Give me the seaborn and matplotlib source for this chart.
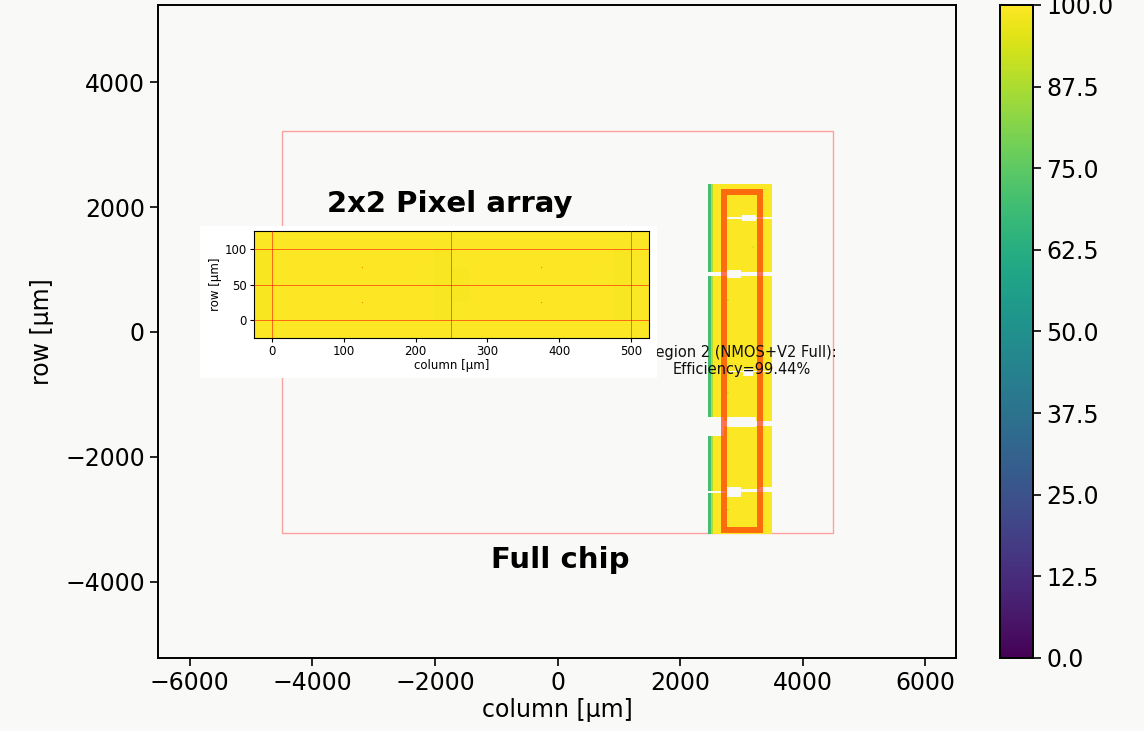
import numpy as np
import matplotlib
matplotlib.use("Agg")
import matplotlib.pyplot as plt
from matplotlib.patches import Rectangle
import seaborn as sns

# ---------------- data ----------------
# full chip outline (µm)
chip_x = [-4500, 4500]
chip_y = [-3225, 3225]

# measured strip (region 2) extent (µm)
strip_x = [2460, 3490]
strip_y = [-3240, 2370]
strip_step = 10  # µm bin

# efficiency profile across the strip columns (segment edges, values in %)
strip_col_edges = [2460, 2500, 2530, 3490]
strip_col_eff = [70.0, 88.0, 99.6]

# slightly lower-efficiency specks inside the strip: (x0, x1, y0, y1, eff)
strip_specks = [
    (2760, 2800, 490, 520, 93.0),
    (2740, 2790, -1000, -970, 94.0),
    (2740, 2790, -2870, -2840, 94.0),
    (3170, 3200, 1350, 1380, 95.0),
    (3060, 3100, -250, -220, 95.0),
]

# regions without data (white gaps): (x0, x1, y0, y1)
strip_gaps = [
    (2757, 3500, 1815, 1840),
    (3002, 3230, 1775, 1880),
    (2450, 3500, 905, 955),
    (2757, 2985, 860, 1000),
    (2757, 3500, -650, -630),
    (3018, 3181, -710, -590),
    (2450, 3500, -1495, -1420),
    (2450, 2720, -1670, -1375),
    (2757, 3230, -1530, -1375),
    (2757, 3500, -2555, -2525),
    (3295, 3500, -2525, -2480),
    (2757, 2985, -2650, -2480),
    (2450, 2740, -2575, -2550),
]

# region of interest (µm)
roi_x = [2708, 3295]
roi_y = [-3173, 2244]
roi_label = "Region 2 (NMOS+V2 Full):\nEfficiency=99.44%"
roi_text_pos = (3000, -465)

# 2x2 pixel array inset (25 µm bins, x from -25 to 525, y from -25 to 125)
inset_x_edges = [-25 + 25 * i for i in range(23)]
inset_y_edges = [-25, 0, 25, 50, 75, 100, 125]
inset_eff = [
    [99.3, 99.5, 99.9, 99.9, 99.9, 100.0, 99.9, 99.9, 99.9, 99.8, 99.3, 99.5, 99.9, 99.9, 99.9, 100.0, 99.9, 99.9, 99.9, 99.8, 99.3, 99.4],
    [99.2, 99.4, 99.9, 99.9, 99.8, 99.9, 99.9, 99.9, 99.8, 99.7, 99.2, 99.4, 99.8, 99.9, 99.9, 99.9, 99.9, 99.9, 99.8, 99.7, 99.2, 99.4],
    [99.1, 99.3, 99.9, 99.9, 99.9, 100.0, 99.9, 99.9, 99.9, 99.7, 99.0, 99.2, 99.8, 99.9, 99.9, 100.0, 99.9, 99.9, 99.9, 99.7, 99.1, 99.3],
    [99.1, 99.3, 99.8, 99.9, 99.8, 99.9, 99.8, 99.9, 99.8, 99.6, 99.0, 99.2, 99.8, 99.9, 99.8, 99.9, 99.8, 99.9, 99.8, 99.6, 99.1, 99.3],
    [99.2, 99.4, 99.9, 99.9, 99.9, 100.0, 99.9, 99.9, 99.9, 99.7, 99.2, 99.4, 99.9, 99.9, 99.9, 100.0, 99.9, 99.9, 99.9, 99.7, 99.2, 99.4],
    [99.3, 99.5, 99.9, 99.9, 99.9, 100.0, 99.9, 99.9, 99.9, 99.8, 99.4, 99.5, 99.9, 99.9, 99.9, 100.0, 99.9, 99.9, 99.9, 99.8, 99.3, 99.5],
]
inset_xticks = [0, 100, 200, 300, 400, 500]
inset_yticks = [0, 50, 100]
inset_grid_x = [0, 250, 500]
inset_grid_y = [0, 50, 100]
inset_dots_x = [125, 125, 375, 375]
inset_dots_y = [25, 75, 25, 75]

cbar_ticks = [0, 12.5, 25, 37.5, 50, 62.5, 75, 87.5, 100]

# ---------------- figure ----------------
bg = "#f9f9f7"
sns.set_style("ticks")
plt.rcParams["font.family"] = ["DejaVu Sans"]
plt.rcParams["text.color"] = "black"
plt.rcParams["axes.labelcolor"] = "black"
plt.rcParams["xtick.color"] = "black"
plt.rcParams["ytick.color"] = "black"
plt.rcParams["axes.edgecolor"] = "black"

fig = plt.figure(figsize=(11.44, 7.31), dpi=100, facecolor=bg)
ax = fig.add_axes([0.1381, 0.0999, 0.6976, 0.8933], facecolor=bg)
cax = fig.add_axes([0.8741, 0.0999, 0.0288, 0.8933])

# strip efficiency map
xe = np.arange(strip_x[0], strip_x[1] + strip_step, strip_step)
ye = np.arange(strip_y[0], strip_y[1] + strip_step, strip_step)
xc = 0.5 * (xe[:-1] + xe[1:])
yc = 0.5 * (ye[:-1] + ye[1:])
grid = np.full((len(yc), len(xc)), np.nan)
for i in range(len(strip_col_eff)):
    sel = (xc >= strip_col_edges[i]) & (xc < strip_col_edges[i + 1])
    grid[:, sel] = strip_col_eff[i]
XX, YY = np.meshgrid(xc, yc)
for (x0, x1, y0, y1, v) in strip_specks:
    grid[(XX >= x0) & (XX <= x1) & (YY >= y0) & (YY <= y1)] = v
for (x0, x1, y0, y1) in strip_gaps:
    grid[(XX >= x0) & (XX <= x1) & (YY >= y0) & (YY <= y1)] = np.nan

mesh = ax.pcolormesh(xe, ye, np.ma.masked_invalid(grid), cmap="viridis",
                     vmin=0, vmax=100, shading="flat", zorder=2)

# chip outline
ax.add_patch(Rectangle((chip_x[0], chip_y[0]), chip_x[1] - chip_x[0], chip_y[1] - chip_y[0],
                       fill=False, edgecolor="red", alpha=0.35, lw=1.0, zorder=1))
# ROI
ax.add_patch(Rectangle((roi_x[0], roi_y[0]), roi_x[1] - roi_x[0], roi_y[1] - roi_y[0],
                       fill=False, edgecolor="#ff2a00", alpha=0.65, lw=4.3, zorder=3))
ax.text(roi_text_pos[0], roi_text_pos[1], roi_label, ha="center", va="center",
        multialignment="center", fontsize=10.5, color="#111111", zorder=4)

ax.text(-1760, 2050, "2x2 Pixel array", ha="center", va="center",
        fontsize=21, fontweight="bold", color="black", zorder=4)
ax.text(50, -3654, "Full chip", ha="center", va="center",
        fontsize=21, fontweight="bold", color="black", zorder=4)

ax.set_xlim(-6520, 6500)
ax.set_ylim(-5225, 5240)
ax.set_xticks([-6000, -4000, -2000, 0, 2000, 4000, 6000])
ax.set_yticks([-4000, -2000, 0, 2000, 4000])
ax.tick_params(labelsize=17, length=6, width=1.2, direction="out", color="black",
               labelcolor="black")
ax.set_xlabel("column [µm]", fontsize=17, labelpad=2)
ax.set_ylabel("row [µm]", fontsize=17, labelpad=8)
for s in ax.spines.values():
    s.set_visible(True)
    s.set_color("black")
    s.set_linewidth(1.4)

# colorbar
cb = fig.colorbar(mesh, cax=cax, ticks=cbar_ticks, format="%.1f")
cb.ax.tick_params(labelsize=17, length=6, width=1.2, color="black", labelcolor="black")
cb.outline.set_linewidth(1.4)
cb.outline.set_edgecolor("black")

# inset white panel
fig.add_artist(Rectangle((0.1748, 0.4829), 0.3995, 0.2079, transform=fig.transFigure,
                         facecolor="white", edgecolor="none", zorder=4))
iax = fig.add_axes([0.2220, 0.5376, 0.3453, 0.1464], zorder=5)
sns.heatmap(np.array(inset_eff), ax=iax, cmap="viridis", vmin=0, vmax=100,
            cbar=False, xticklabels=False, yticklabels=False)
iax.invert_yaxis()  # rows increase upward


def to_ix(v):
    return (v - inset_x_edges[0]) / (inset_x_edges[1] - inset_x_edges[0])


def to_iy(v):
    return (v - inset_y_edges[0]) / (inset_y_edges[1] - inset_y_edges[0])


for gx in inset_grid_x:
    iax.axvline(to_ix(gx), color="red", lw=0.7, alpha=0.55, zorder=4)
for gy in inset_grid_y:
    iax.axhline(to_iy(gy), color="red", lw=0.7, alpha=0.55, zorder=4)
iax.scatter([to_ix(v) for v in inset_dots_x], [to_iy(v) for v in inset_dots_y],
            s=0.8, color="#ff3000", alpha=0.6, linewidths=0, zorder=5)
iax.set_xticks([to_ix(v) for v in inset_xticks])
iax.set_xticklabels([str(v) for v in inset_xticks])
iax.set_yticks([to_iy(v) for v in inset_yticks])
iax.set_yticklabels([str(v) for v in inset_yticks], rotation=0)
iax.tick_params(labelsize=8.5, length=3, width=0.8, direction="out", pad=2,
                color="black", labelcolor="black")
iax.set_xlabel("column [µm]", fontsize=8.5, labelpad=1)
iax.set_ylabel("row [µm]", fontsize=8.5, labelpad=2)
for s in iax.spines.values():
    s.set_visible(True)
    s.set_color("black")
    s.set_linewidth(0.8)

fig.savefig("out.png", dpi=100, facecolor=bg)
